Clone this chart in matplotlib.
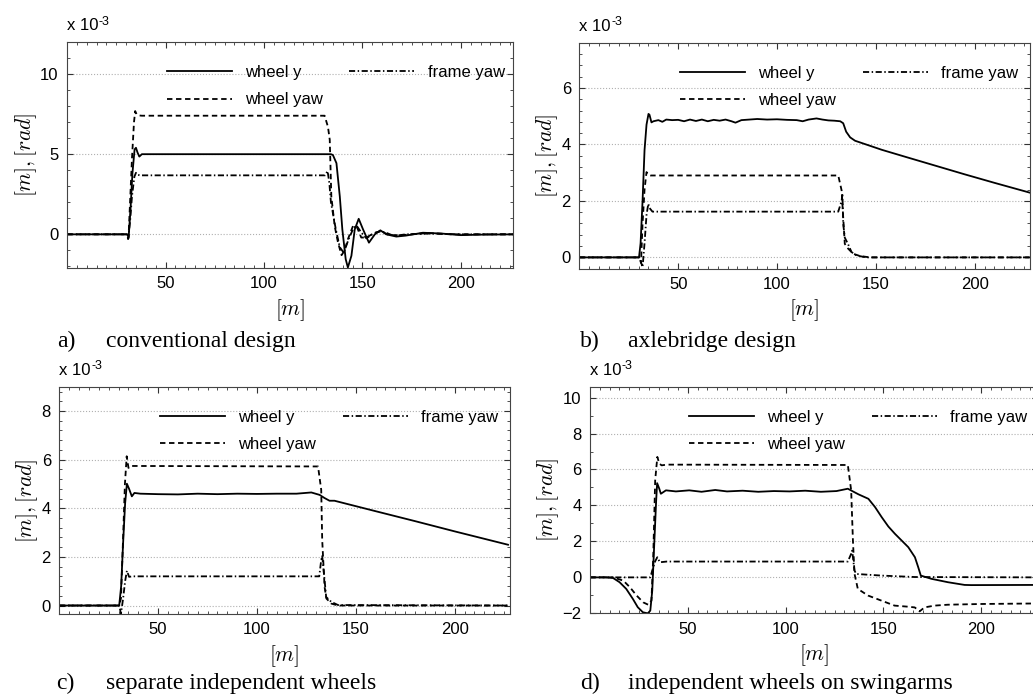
import matplotlib
matplotlib.use("Agg")
import matplotlib.pyplot as plt
from matplotlib.ticker import MultipleLocator

plt.rcParams['font.family'] = ['Liberation Sans', 'DejaVu Sans']
plt.rcParams['mathtext.fontset'] = 'cm'

# ---- a) conventional design
a_wy_x = [0, 30.5, 31.3, 32.2, 33.2, 34.3, 35.0, 35.8, 36.7, 38, 40, 131, 134, 135, 136.8, 138.5, 139.8, 141.5,
          142.6, 144.4, 146.1, 148.1, 150.3, 153.3, 156.3, 159.1, 162.1, 167.2, 172, 180.7, 190, 200, 210, 227]
a_wy_y = [0, 0, -0.15, 1.5, 3.8, 5.3, 5.4, 5.1, 4.85, 5.0, 5.0, 5.0, 5.0, 4.95, 4.44, 2.37, 0.3, -1.55,
          -2.07, -1.34, 0.31, 0.97, 0.31, -0.52, 0.0, 0.25, 0.0, -0.14, -0.08, 0.1, 0.05, -0.05, -0.02, 0]
a_wyaw_x = [0, 30.5, 31.2, 32.0, 33.0, 34.0, 34.6, 35.3, 36.2, 38, 130.8, 132.5, 133.4, 134.2, 135.9, 137.6, 139.4,
            141.0, 142.6, 145.2, 147.2, 149.4, 152.0, 156.2, 159.5, 163.5, 170, 183, 195, 227]
a_wyaw_y = [0, 0, -0.25, 2.0, 4.8, 7.0, 7.69, 7.5, 7.42, 7.4, 7.4, 6.7, 5.9, 2.37, 0.52, -0.52, -1.3,
            -1.0, -0.31, 0.52, 0.45, -0.2, -0.2, 0.1, 0.2, -0.05, -0.05, 0.08, 0.0, 0]
a_fyaw_x = [0, 30.5, 31.0, 32.0, 33.0, 34.2, 35.0, 35.8, 37, 131, 132.3, 133.2, 134.0, 136.5, 138.5, 140.5,
            143.0, 145.5, 147.0, 149.5, 152.0, 155.0, 159.0, 162.0, 166.0, 172, 185, 200, 227]
a_fyaw_y = [0, 0, -0.3, 0.8, 2.4, 3.6, 3.84, 3.72, 3.68, 3.68, 3.95, 3.2, 2.0, 0.3, -0.8, -1.15,
            -0.3, 0.4, 0.55, 0.1, -0.25, 0.0, 0.2, 0.1, -0.1, 0.0, 0.05, 0.0, 0]

# ---- b) axlebridge design
b_wy_x = [0, 30.2, 31, 32, 33, 34, 35, 35.5, 36.5, 37.5, 40, 42, 44, 47, 50, 53, 56, 59, 62, 65, 68, 71, 74, 77,
          79, 82, 86, 90, 95, 100, 105, 110, 113, 116, 120, 123, 126, 129, 132, 133.5, 135, 137, 139.5, 145,
          153, 165, 180, 195, 210, 228]
b_wy_y = [0, 0, 0.5, 2.0, 3.8, 4.7, 5.08, 5.05, 4.78, 4.82, 4.86, 4.80, 4.88, 4.86, 4.87, 4.82, 4.88, 4.83,
          4.88, 4.82, 4.87, 4.84, 4.88, 4.82, 4.77, 4.86, 4.88, 4.90, 4.88, 4.89, 4.87, 4.86, 4.82, 4.88, 4.92,
          4.88, 4.85, 4.84, 4.82, 4.75, 4.45, 4.25, 4.13, 4.0, 3.81, 3.56, 3.25, 2.94, 2.64, 2.29]
b_wyaw_x = [0, 30.5, 31.2, 32, 33, 34, 35, 36, 131, 132.7, 133.5, 133.9, 134.3, 136, 138.5, 141.9, 147, 228]
b_wyaw_y = [0, 0, -0.2, 1.2, 2.4, 3.02, 2.92, 2.9, 2.9, 2.37, 1.42, 0.95, 0.48, 0.31, 0.13, 0.05, 0.0, 0]
b_fyaw_x = [0, 30.5, 32, 33, 34, 34.9, 35.5, 37, 131, 132.7, 133.1, 133.5, 134.3, 136, 137.7, 140.2, 145, 228]
b_fyaw_y = [0, 0, -0.35, 0.5, 1.5, 1.9, 1.75, 1.62, 1.62, 2.0, 2.27, 1.19, 0.7, 0.46, 0.19, 0.07, 0.0, 0]

# ---- c) separate independent wheels
c_wy_x = [0, 30.3, 31.3, 32.3, 33.3, 34.2, 35.3, 36.7, 38, 41, 50, 60, 70, 80, 90, 100, 110, 120, 127.5,
          131.7, 134.2, 136.7, 139.2, 160, 180, 200, 227]
c_wy_y = [0, 0, 0.8, 2.6, 4.2, 5.01, 4.8, 4.49, 4.63, 4.6, 4.58, 4.57, 4.6, 4.58, 4.6, 4.59, 4.6, 4.6, 4.65,
          4.55, 4.42, 4.31, 4.31, 3.88, 3.47, 3.05, 2.5]
c_wyaw_x = [0, 30.3, 31.2, 32.2, 33.2, 34.1, 35.0, 36.2, 130.9, 132.5, 133.0, 134.2, 135.1, 137.6, 141, 227]
c_wyaw_y = [0, 0, 0.3, 2.6, 5.0, 6.14, 5.66, 5.74, 5.72, 4.76, 2.7, 0.77, 0.29, 0.08, 0.0, 0]
c_fyaw_x = [0, 30.3, 31.2, 32.3, 33.3, 34.2, 35.3, 37, 131.5, 132.5, 133.0, 134.2, 135.0, 137.6, 141, 227]
c_fyaw_y = [0, 0, -0.33, 0.3, 1.0, 1.43, 1.18, 1.2, 1.2, 1.87, 2.04, 1.05, 0.35, 0.15, 0.02, 0]

# ---- d) independent wheels on swingarms
d_wy_x = [0, 8, 11.7, 15.1, 18.5, 21.9, 24.4, 27.0, 29.5, 30.8, 31.8, 32.9, 33.8, 34.3, 35.4, 36.2, 38.8, 43.9,
          50.7, 57, 64, 70, 78, 86, 94, 102, 110, 118, 126, 131.8, 137.2, 142.3, 145.7, 149.1, 152.5, 155.9,
          159.3, 162.7, 166.1, 167.8, 169.1, 174.5, 183, 191.5, 195, 229]
d_wy_y = [0, 0, -0.03, -0.27, -0.64, -1.2, -1.66, -1.94, -2.0, -1.85, -0.74, 2.05, 4.28, 5.24, 4.93, 4.65,
          4.84, 4.78, 4.84, 4.76, 4.86, 4.78, 4.82, 4.76, 4.8, 4.78, 4.82, 4.76, 4.8, 4.93, 4.62, 4.37, 3.91,
          3.35, 2.83, 2.42, 2.05, 1.68, 1.12, 0.56, 0.1, -0.08, -0.27, -0.42, -0.43, -0.42]
d_wyaw_x = [0, 8, 11.7, 17.0, 20.4, 23.8, 27.2, 29.7, 31.4, 32.3, 33.3, 34.4, 35.4, 36.6, 39.2, 131.8, 133.5,
            134.4, 135.2, 136.9, 142.1, 148.9, 155.7, 162.5, 166.0, 168.5, 171.0, 176.1, 183.0, 200, 229]
d_wyaw_y = [0, 0, 0, -0.18, -0.55, -1.01, -1.39, -1.52, -1.29, 1.12, 5.4, 6.7, 6.33, 6.23, 6.27, 6.25, 4.84,
            2.05, 0.2, -0.64, -1.01, -1.29, -1.57, -1.63, -1.67, -1.89, -1.67, -1.57, -1.52, -1.48, -1.45]
d_fyaw_x = [0, 30.8, 32.3, 33.3, 34.4, 35.7, 39.2, 131.8, 133.5, 134.0, 135.2, 136.1, 148.9, 166.0, 229]
d_fyaw_y = [0, 0, 0.56, 0.9, 1.12, 0.84, 0.88, 0.88, 1.31, 1.49, 0.38, 0.19, 0.1, 0.02, 0]

captions = ["conventional design", "axlebridge design",
            "separate independent wheels", "independent wheels on swingarms"]
letters = ["a)", "b)", "c)", "d)"]
series_labels = ["wheel y", "wheel yaw", "frame yaw"]

panels = [
    dict(rect=[0.0649, 0.6144, 0.4318, 0.3252], ylim=(-2.1, 12), major=5, minor=1, xlim=(0, 226.5),
         data=[(a_wy_x, a_wy_y), (a_wyaw_x, a_wyaw_y), (a_fyaw_x, a_fyaw_y)], cap=(57, 106, 347), leg_x=0.223),
    dict(rect=[0.5608, 0.6134, 0.4363, 0.3251], ylim=(-0.4, 7.6), major=2, minor=0.4, xlim=(0, 228),
         data=[(b_wy_x, b_wy_y), (b_wyaw_x, b_wyaw_y), (b_fyaw_x, b_fyaw_y)], cap=(580, 628, 347), leg_x=0.223),
    dict(rect=[0.0574, 0.1165, 0.4363, 0.3271], ylim=(-0.35, 9), major=2, minor=0.4, xlim=(0, 228),
         data=[(c_wy_x, c_wy_y), (c_wyaw_x, c_wyaw_y), (c_fyaw_x, c_fyaw_y)], cap=(56, 106, 689), leg_x=0.223),
    # right edge of this panel runs past the picture, as in the original
    dict(rect=[0.5712, 0.1175, 0.4336, 0.3260], ylim=(-2, 10.6), major=2, minor=1, xlim=(0, 229),
         data=[(d_wy_x, d_wy_y), (d_wyaw_x, d_wyaw_y), (d_fyaw_x, d_fyaw_y)], cap=(580, 628, 689), leg_x=0.221),
]

styles = [dict(linestyle='-'), dict(dashes=[3, 2]), dict(dashes=[3.4, 1.4, 0.8, 1.4])]

W, H = 1033, 695
fig = plt.figure(figsize=(W / 100, H / 100), dpi=100)

for i, p in enumerate(panels):
    ax = fig.add_axes(p['rect'])
    for (xs, ys), st, lab in zip(p['data'], styles, series_labels):
        ax.plot(xs, ys, color='black', lw=1.3, label=lab, **st)
    ax.set_xlim(*p['xlim'])
    ax.set_ylim(*p['ylim'])
    ax.xaxis.set_minor_locator(MultipleLocator(5))
    ax.yaxis.set_major_locator(MultipleLocator(p['major']))
    ax.yaxis.set_minor_locator(MultipleLocator(p['minor']))
    ax.set_xticks([50, 100, 150, 200])
    ax.tick_params(which='both', direction='in', top=True, right=True, colors='#333333')
    ax.tick_params(which='major', length=4, labelsize=12, labelcolor='black', pad=6)
    ax.tick_params(which='minor', length=2.5)
    ax.grid(axis='y', which='major', linestyle=':', color='#b0b0b0', lw=0.8)
    for s in ax.spines.values():
        s.set_color('#444444')
    ax.set_xlabel(r'$[m]$', fontsize=15.5, labelpad=4)
    ax.set_ylabel(r'$[m], [rad]$', fontsize=15.5, labelpad=1)
    ax.text(0, 1.04, 'x 10', transform=ax.transAxes, fontsize=12, ha='left', va='bottom')
    ax.annotate('-3', xy=(0, 1.04), xycoords='axes fraction', xytext=(23, 6),
                textcoords='offset points', fontsize=9)
    ax.legend(loc='upper left', bbox_to_anchor=(p['leg_x'], 0.897), ncol=2, frameon=False, fontsize=12,
              handlelength=3.9, handletextpad=0.8, columnspacing=1.6, labelspacing=0.73,
              borderpad=0, borderaxespad=0)
    lx, tx, base = p['cap']
    fig.text(lx / W, 1 - base / H, letters[i], fontsize=17, family='Liberation Serif',
             ha='left', va='baseline')
    fig.text(tx / W, 1 - base / H, captions[i], fontsize=17, family='Liberation Serif',
             ha='left', va='baseline')

fig.savefig('out.png', dpi=100)
